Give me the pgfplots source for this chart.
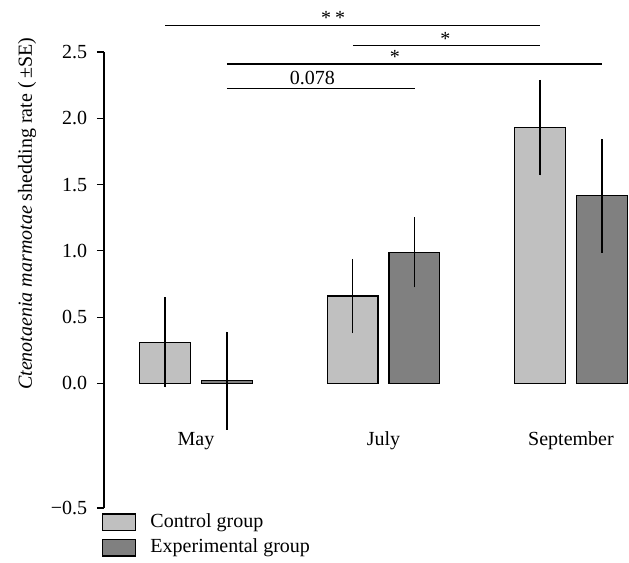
\documentclass[border=0pt]{standalone}
\usepackage{fontspec}
\setmainfont{Liberation Serif}
\usepackage{pgfplots}
\pgfplotsset{compat=1.18}
\definecolor{ctrl}{RGB}{192,192,192}
\definecolor{expt}{RGB}{128,128,128}
\begin{document}
\fontsize{20bp}{24bp}\selectfont
\begin{tikzpicture}[font=\fontsize{20bp}{24bp}\selectfont]
\begin{axis}[
    at={(0,0)}, anchor=south west,
    scale only axis, width=524bp, height=456bp,
    xmin=-0.4907, xmax=2.304,
    ymin=-0.94, ymax=2.5,
    clip=false,
    axis y line*=left, axis x line*=bottom,
    x axis line style={draw=none},
    y axis line style={line width=1.1bp},
    ytick={-0.94,0,0.5,1,1.5,2,2.5},
    yticklabels={−0.5,0.0,0.5,1.0,1.5,2.0,2.5},
    ytick style={line width=1.1bp, black},
    tick align=outside, major tick length=7bp,
    xtick={0,1,2}, xticklabels={May,July,September},
    xtick style={draw=none},
    xticklabel style={anchor=center, yshift=74bp},
    yticklabel style={xshift=-3bp},
    ylabel={\textit{Ctenotaenia marmotae} shedding rate (\,±SE)},
    every axis y label/.style={at={([xshift=-77bp]rel axis cs:0,0.645)}, rotate=90, anchor=center},
    ybar, bar width=0.27,
    legend image code/.code={\draw[#1,line width=1.3bp] (0bp,-8.3bp) rectangle (33bp,8.3bp);},
    legend style={at={(rel axis cs:0,0)}, anchor=north west, xshift=-2bp, yshift=-5bp,
        draw=none, fill=none, inner sep=0pt, row sep=7.5bp,
        nodes={inner sep=0pt}},
    legend cell align=left,
    /tikz/every even column/.append style={column sep=0bp},
]
\addplot[bar shift=0pt, fill=ctrl, draw=black, line width=1.3bp,
    error bars/.cd, y dir=both, y explicit, error mark=none,
    error bar style={line width=1.3bp, black}]
coordinates {
    (-0.165,0.31) +- (0,0.34)
    (0.835,0.66)  +- (0,0.28)
    (1.835,1.93)  +- (0,0.36)
};
\addlegendentry{\hspace{14bp}Control group}
\addplot[bar shift=0pt, fill=expt, draw=black, line width=1.3bp,
    error bars/.cd, y dir=both, y explicit, error mark=none,
    error bar style={line width=1.3bp, black}]
coordinates {
    (0.165,0.02)  +- (0,0.37)
    (1.165,0.99)  +- (0,0.265)
    (2.165,1.415) +- (0,0.43)
};
\addlegendentry{\hspace{14bp}Experimental group}

% significance brackets
\draw[line width=1.3bp] (axis cs:-0.165,2.70) -- (axis cs:1.835,2.70);
\node[anchor=base, inner sep=0pt] at (axis cs:0.731,2.705) {*\hspace{4bp}*};
\draw[line width=1.3bp] (axis cs:0.836,2.547) -- (axis cs:1.835,2.547);
\node[anchor=base, inner sep=0pt] at (axis cs:1.33,2.552) {*};
\draw[line width=1.3bp] (axis cs:0.164,2.409) -- (axis cs:2.164,2.409);
\node[anchor=base, inner sep=0pt] at (axis cs:1.061,2.414) {*};
\draw[line width=1.3bp] (axis cs:0.164,2.223) -- (axis cs:1.168,2.223);
\node[anchor=base, inner sep=0pt] at (axis cs:0.621,2.253) {0.078};
\end{axis}
\pgfresetboundingbox
\path[use as bounding box] (-104bp,-55bp) rectangle (525bp,508bp);
\end{tikzpicture}
\end{document}
